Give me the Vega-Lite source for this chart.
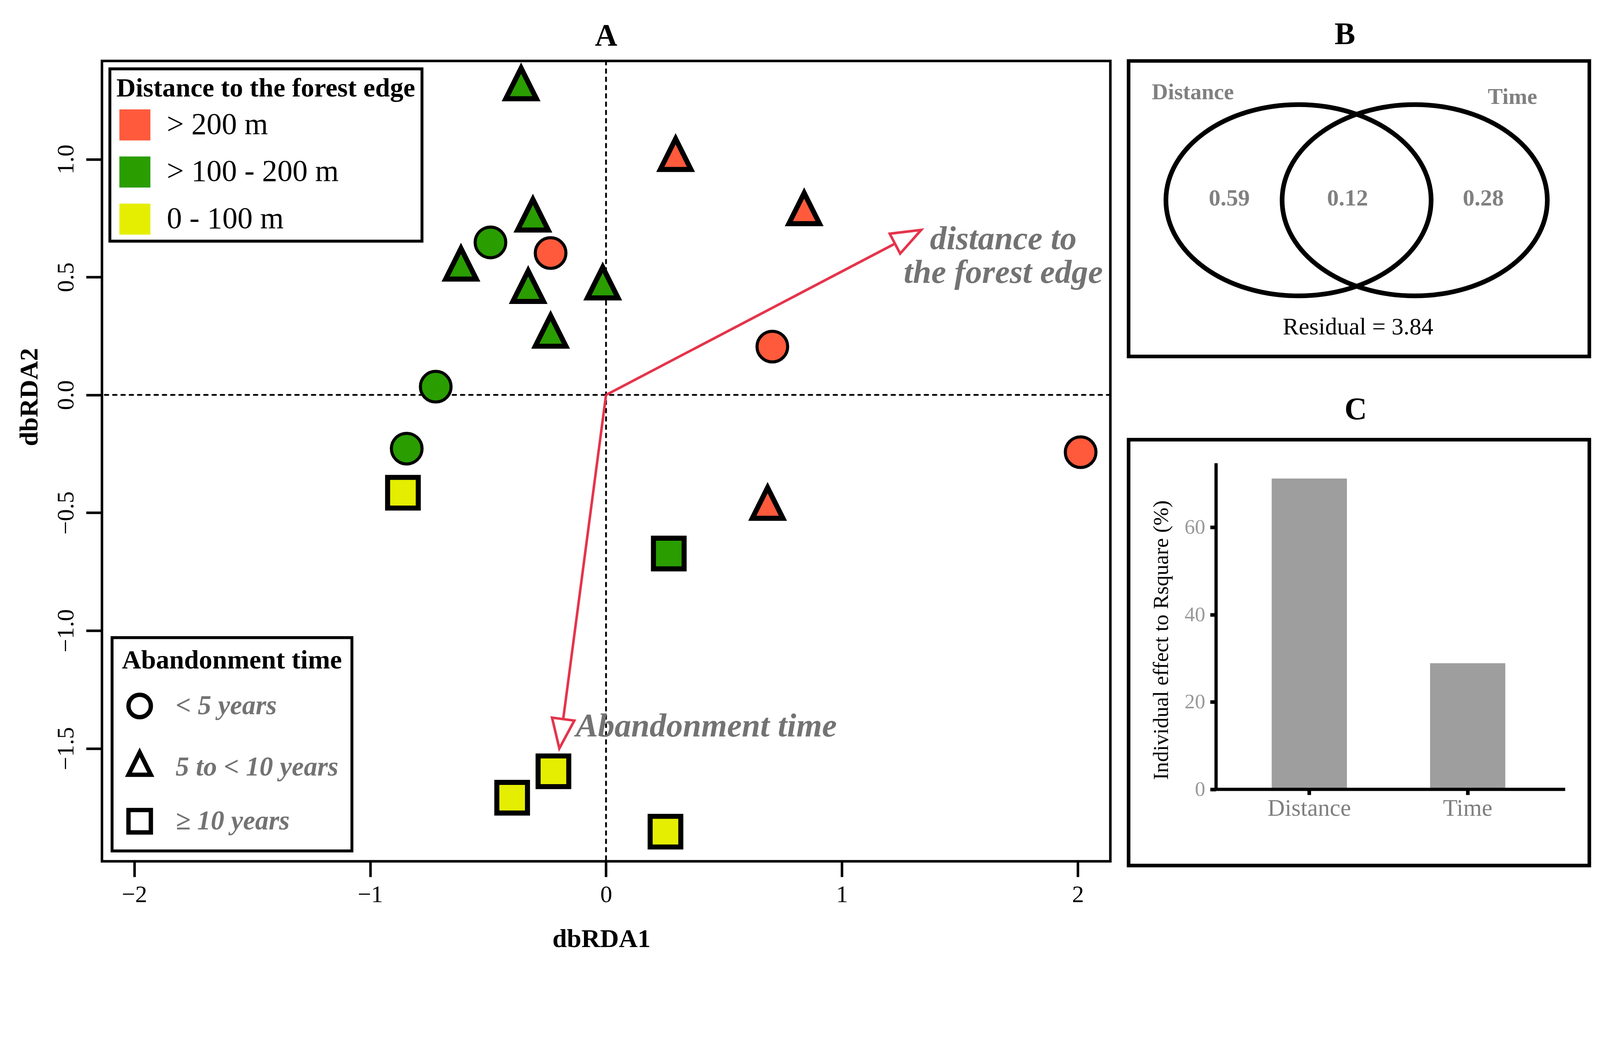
{
  "$schema": "https://vega.github.io/schema/vega-lite/v6.json",
  "autosize": {"type": "none"},
  "padding": {"left": 261, "top": 156, "right": 3835, "bottom": 2307},
  "background": "white",
  "bounds": "flush",
  "spacing": 46.2,
  "config": {
    "font": "Liberation Serif",
    "view": {"stroke": null},
    "legend": {"strokeWidth": 7.4},
    "axis": {"labelFont": "Liberation Serif", "titleFont": "Liberation Serif", "grid": false, "labelLimit": 1000}
  },
  "datasets": {
    "sites": [
      {"x": -0.36, "y": 1.30, "dist": "> 100 - 200 m", "time": "5 to < 10 years"},
      {"x": 0.295, "y": 1.0, "dist": "> 200 m", "time": "5 to < 10 years"},
      {"x": 0.84, "y": 0.77, "dist": "> 200 m", "time": "5 to < 10 years"},
      {"x": -0.31, "y": 0.743, "dist": "> 100 - 200 m", "time": "5 to < 10 years"},
      {"x": -0.49, "y": 0.647, "dist": "> 100 - 200 m", "time": "< 5 years"},
      {"x": -0.235, "y": 0.602, "dist": "> 200 m", "time": "< 5 years"},
      {"x": -0.615, "y": 0.535, "dist": "> 100 - 200 m", "time": "5 to < 10 years"},
      {"x": -0.33, "y": 0.44, "dist": "> 100 - 200 m", "time": "5 to < 10 years"},
      {"x": -0.014, "y": 0.455, "dist": "> 100 - 200 m", "time": "5 to < 10 years"},
      {"x": -0.235, "y": 0.25, "dist": "> 100 - 200 m", "time": "5 to < 10 years"},
      {"x": 0.705, "y": 0.205, "dist": "> 200 m", "time": "< 5 years"},
      {"x": -0.722, "y": 0.035, "dist": "> 100 - 200 m", "time": "< 5 years"},
      {"x": -0.845, "y": -0.228, "dist": "> 100 - 200 m", "time": "< 5 years"},
      {"x": 2.012, "y": -0.243, "dist": "> 200 m", "time": "< 5 years"},
      {"x": -0.861, "y": -0.415, "dist": "0 - 100 m", "time": "≥ 10 years"},
      {"x": 0.685, "y": -0.48, "dist": "> 200 m", "time": "5 to < 10 years"},
      {"x": 0.266, "y": -0.673, "dist": "> 100 - 200 m", "time": "≥ 10 years"},
      {"x": -0.223, "y": -1.597, "dist": "0 - 100 m", "time": "≥ 10 years"},
      {"x": -0.398, "y": -1.709, "dist": "0 - 100 m", "time": "≥ 10 years"},
      {"x": 0.252, "y": -1.853, "dist": "0 - 100 m", "time": "≥ 10 years"}
    ],
    "arrows": [
      {"variable": "distance to the forest edge", "x0": 0, "y0": 0, "x": 1.336, "y": 0.700},
      {"variable": "Abandonment time", "x0": 0, "y0": 0, "x": -0.198, "y": -1.500}
    ],
    "arrow_labels": [
      {"label": "distance to\nthe forest edge", "x": 1.684, "y": 0.618},
      {"label": "Abandonment time", "x": 0.425, "y": -1.449}
    ],
    "venn_sets": [
      {"set": "Distance", "x": 3.688, "y": 3.39},
      {"set": "Time", "x": 6.21, "y": 3.39}
    ],
    "venn_labels": [
      {"label": "Distance", "kind": "set", "x": 1.394, "y": 5.583},
      {"label": "Time", "kind": "set", "x": 8.332, "y": 5.482},
      {"label": "0.59", "kind": "fraction", "x": 2.185, "y": 3.276},
      {"label": "0.12", "kind": "fraction", "x": 4.753, "y": 3.276},
      {"label": "0.28", "kind": "fraction", "x": 7.698, "y": 3.276},
      {"label": "Residual = 3.84", "kind": "residual", "x": 4.98, "y": 0.478}
    ],
    "effects": [
      {"variable": "Distance", "effect": 71.2},
      {"variable": "Time", "effect": 28.9}
    ]
  },
  "hconcat": [
    {
      "width": 2581.5,
      "height": 2048.6,
      "view": {"stroke": "black", "strokeWidth": 6.5},
      "title": {"text": "A", "font": "Liberation Serif", "fontSize": 79.4, "fontWeight": "bold", "color": "black", "baseline": "alphabetic", "offset": -48, "anchor": "middle"},
      "layer": [
        {
          "data": {"values": [{"zero": 0}]},
          "mark": {"type": "rule", "strokeDash": [9.2, 12], "strokeWidth": 4.6, "strokeCap": "round", "color": "black"},
          "encoding": {"y": {"field": "zero", "type": "quantitative"}}
        },
        {
          "data": {"values": [{"zero": 0}]},
          "mark": {"type": "rule", "strokeDash": [9.2, 12], "strokeWidth": 4.6, "strokeCap": "round", "color": "black"},
          "encoding": {"x": {"field": "zero", "type": "quantitative"}}
        },
        {
          "data": {"name": "arrows"},
          "mark": {"type": "rule", "color": "#E5344B", "strokeWidth": 6.5},
          "encoding": {
            "x": {"field": "x0", "type": "quantitative"},
            "y": {"field": "y0", "type": "quantitative"},
            "x2": {"field": "x"},
            "y2": {"field": "y"}
          }
        },
        {
          "data": {"name": "sites"},
          "mark": {"type": "point", "filled": true, "stroke": "black", "size": 6162, "opacity": 1, "strokeJoin": "miter"},
          "encoding": {
            "x": {
              "field": "x", "type": "quantitative",
              "scale": {"domain": [-2.137, 2.138], "nice": false, "zero": false},
              "axis": {
                "title": "dbRDA1", "values": [-2, -1, 0, 1, 2], "format": "d",
                "domain": false, "tickSize": 39.7, "tickWidth": 6.5, "tickColor": "black",
                "labelFontSize": 61, "labelColor": "black", "labelPadding": 16.6, "labelFlush": false,
                "titleFontSize": 66.5, "titleFontWeight": "bold", "titleColor": "black",
                "titleX": 1278.3, "titleY": 218.9, "titleBaseline": "alphabetic", "titleAlign": "center"
              }
            },
            "y": {
              "field": "y", "type": "quantitative",
              "scale": {"domain": [-1.979, 1.417], "nice": false, "zero": false},
              "axis": {
                "title": "dbRDA2", "values": [-1.5, -1, -0.5, 0, 0.5, 1], "format": ".1f",
                "domain": false, "tickSize": 40.6, "tickWidth": 6.5, "tickColor": "black",
                "labelAngle": -90, "labelAlign": "center", "labelBaseline": "alphabetic",
                "labelPadding": 33, "labelFontSize": 61, "labelColor": "black", "labelFlush": false,
                "titleFontSize": 66.5, "titleFontWeight": "bold", "titleColor": "black",
                "titleX": -185.6, "titleY": 859.9, "titleAngle": -90, "titleBaseline": "middle", "titleAlign": "center"
              }
            },
            "fill": {
              "field": "dist", "type": "nominal",
              "scale": {"domain": ["> 200 m", "> 100 - 200 m", "0 - 100 m"], "range": ["#FF5A3C", "#2A9D00", "#E5EE00"]},
              "legend": {
                "title": "Distance to the forest edge",
                "orient": "none", "legendX": 20.3, "legendY": 20.3, "direction": "vertical",
                "padding": 16.6, "fillColor": "white", "strokeColor": "black",
                "titleFont": "Liberation Serif", "titleFontSize": 68.3, "titleFontWeight": "bold", "titleColor": "black", "titlePadding": 18.5, "titleLimit": 3000,
                "symbolType": "square", "symbolSize": 6309, "symbolStrokeWidth": 0, "symbolOffset": 7.4,
                "labelFont": "Liberation Serif", "labelFontSize": 77.6, "labelColor": "black", "labelOffset": 41.6, "labelLimit": 3000,
                "rowPadding": 40.6
              }
            },
            "shape": {
              "field": "time", "type": "nominal",
              "scale": {"domain": ["< 5 years", "5 to < 10 years", "≥ 10 years"], "range": ["circle", "M 0 -1.333 L 1 0.667 L -1 0.667 Z", "square"]},
              "legend": {
                "title": "Abandonment time",
                "orient": "none", "legendX": 25.9, "legendY": 1476, "direction": "vertical",
                "padding": 25, "fillColor": "white", "strokeColor": "black",
                "titleFont": "Liberation Serif", "titleFontSize": 68.3, "titleFontWeight": "bold", "titleColor": "black", "titlePadding": 47, "titleLimit": 3000,
                "symbolSize": 3279, "symbolStrokeWidth": 11.1, "symbolStrokeColor": "black", "symbolFillColor": "white", "symbolOffset": 11,
                "labelFont": "Liberation Serif", "labelFontSize": 69.3, "labelFontStyle": "italic", "labelFontWeight": "bold", "labelColor": "#737373", "labelOffset": 57.3, "labelLimit": 3000,
                "rowPadding": 45
              }
            },
            "strokeWidth": {"condition": {"test": "datum.time === '< 5 years'", "value": 7.85}, "value": 12.9}
          }
        },
        {
          "data": {"name": "arrows"},
          "transform": [{"filter": "datum.variable === 'distance to the forest edge'"}],
          "mark": {"type": "point", "shape": "M 0 0 L 0.38 1 L -0.38 1 Z", "size": 22952, "angle": 62.4, "filled": true, "fill": "white", "stroke": "#E5344B", "strokeWidth": 6.5, "opacity": 1},
          "encoding": {
            "x": {"field": "x", "type": "quantitative"},
            "y": {"field": "y", "type": "quantitative"}
          }
        },
        {
          "data": {"name": "arrows"},
          "transform": [{"filter": "datum.variable === 'Abandonment time'"}],
          "mark": {"type": "point", "shape": "M 0 0 L 0.38 1 L -0.38 1 Z", "size": 22952, "angle": 187.5, "filled": true, "fill": "white", "stroke": "#E5344B", "strokeWidth": 6.5, "opacity": 1},
          "encoding": {
            "x": {"field": "x", "type": "quantitative"},
            "y": {"field": "y", "type": "quantitative"}
          }
        },
        {
          "data": {"name": "arrow_labels"},
          "mark": {"type": "text", "font": "Liberation Serif", "fontSize": 85, "fontStyle": "italic", "fontWeight": "bold", "color": "#737373", "align": "center", "baseline": "alphabetic", "lineBreak": "\n", "lineHeight": 85.9},
          "encoding": {
            "x": {"field": "x", "type": "quantitative"},
            "y": {"field": "y", "type": "quantitative"},
            "text": {"field": "label"}
          }
        }
      ]
    },
    {
      "bounds": "flush",
      "spacing": 212.4,
      "vconcat": [
        {
          "width": 1179.5,
          "height": 756.4,
          "view": {"stroke": "black", "strokeWidth": 9.2},
          "title": {"text": "B", "font": "Liberation Serif", "fontSize": 79.4, "fontWeight": "bold", "color": "black", "baseline": "alphabetic", "offset": -36, "anchor": "middle", "dx": -36},
          "layer": [
            {
              "data": {"name": "venn_sets"},
              "mark": {"type": "point", "shape": "M -1 0 A 1 0.721 0 1 1 1 0 A 1 0.721 0 1 1 -1 0 Z", "size": 460905, "filled": false, "stroke": "black", "strokeWidth": 12, "opacity": 1},
              "encoding": {
                "x": {"field": "x", "type": "quantitative", "scale": {"domain": [0, 10], "nice": false, "zero": false}, "axis": null},
                "y": {"field": "y", "type": "quantitative", "scale": {"domain": [0, 6.413], "nice": false, "zero": false}, "axis": null}
              }
            },
            {
              "data": {"name": "venn_labels"},
              "transform": [{"filter": "datum.kind === 'set'"}],
              "mark": {"type": "text", "font": "Liberation Serif", "fontSize": 57.3, "fontWeight": "bold", "color": "#808080", "align": "center", "baseline": "alphabetic"},
              "encoding": {
                "x": {"field": "x", "type": "quantitative"},
                "y": {"field": "y", "type": "quantitative"},
                "text": {"field": "label"}
              }
            },
            {
              "data": {"name": "venn_labels"},
              "transform": [{"filter": "datum.kind === 'fraction'"}],
              "mark": {"type": "text", "font": "Liberation Serif", "fontSize": 60, "fontWeight": "bold", "color": "#808080", "align": "center", "baseline": "alphabetic"},
              "encoding": {
                "x": {"field": "x", "type": "quantitative"},
                "y": {"field": "y", "type": "quantitative"},
                "text": {"field": "label"}
              }
            },
            {
              "data": {"name": "venn_labels"},
              "transform": [{"filter": "datum.kind === 'residual'"}],
              "mark": {"type": "text", "font": "Liberation Serif", "fontSize": 61, "fontWeight": "normal", "color": "black", "align": "center", "baseline": "alphabetic"},
              "encoding": {
                "x": {"field": "x", "type": "quantitative"},
                "y": {"field": "y", "type": "quantitative"},
                "text": {"field": "label"}
              }
            }
          ]
        },
        {
          "width": 1179.5,
          "height": 1089.9,
          "view": {"stroke": "black", "strokeWidth": 9.2},
          "title": {"text": "C", "font": "Liberation Serif", "fontSize": 79.4, "fontWeight": "bold", "color": "black", "baseline": "alphabetic", "offset": -27, "anchor": "middle", "dx": -8.3},
          "resolve": {"scale": {"x": "independent"}, "axis": {"x": "independent"}},
          "layer": [
            {
              "data": {"name": "effects"},
              "mark": {"type": "bar", "color": "#9E9E9E"},
              "encoding": {
                "x": {
                  "field": "variable", "type": "nominal", "sort": null,
                  "scale": {"domain": ["Distance", "Time"], "paddingInner": 0.525, "paddingOuter": 0.717, "align": 0.63},
                  "axis": {
                    "orient": "bottom", "offset": -194.9, "title": null, "domain": false,
                    "tickSize": 13.9, "tickWidth": 9.2, "tickColor": "black",
                    "labelColor": "#7F7F7F", "labelFontSize": 61, "labelPadding": 5.5, "labelAngle": 0, "labelLimit": 1000
                  }
                },
                "y": {
                  "field": "effect", "type": "quantitative",
                  "scale": {"domain": [-17.44, 80.08], "nice": false, "zero": false},
                  "axis": {
                    "orient": "left", "offset": -223.5, "values": [0, 20, 40, 60], "domain": false,
                    "tickSize": 14.8, "tickWidth": 9.2, "tickColor": "black",
                    "labelColor": "#999999", "labelFontSize": 53, "labelPadding": 12.9,
                    "title": "Individual effect to Rsquare (%)", "titleFontSize": 55.4, "titleFontWeight": "normal", "titleColor": "black",
                    "titleX": -140.4, "titleY": 512.6, "titleAngle": -90, "titleBaseline": "middle", "titleAlign": "center", "titleLimit": 3000
                  }
                }
              }
            },
            {
              "data": {"values": [{"pos": 0.401, "bottom": 0, "top": 74.7}]},
              "mark": {"type": "rule", "strokeWidth": 8.3, "color": "black"},
              "encoding": {
                "x": {"field": "pos", "type": "quantitative", "scale": {"domain": [-0.15, 2.752], "nice": false, "zero": false}, "axis": null},
                "y": {"field": "bottom", "type": "quantitative"},
                "y2": {"field": "top"}
              }
            },
            {
              "data": {"values": [{"left": 0.401, "right": 2.6, "level": 0}]},
              "mark": {"type": "rule", "strokeWidth": 8.3, "color": "black"},
              "encoding": {
                "x": {"field": "left", "type": "quantitative", "scale": {"domain": [-0.15, 2.752], "nice": false, "zero": false}, "axis": null},
                "x2": {"field": "right"},
                "y": {"field": "level", "type": "quantitative"}
              }
            }
          ]
        }
      ]
    }
  ]
}
